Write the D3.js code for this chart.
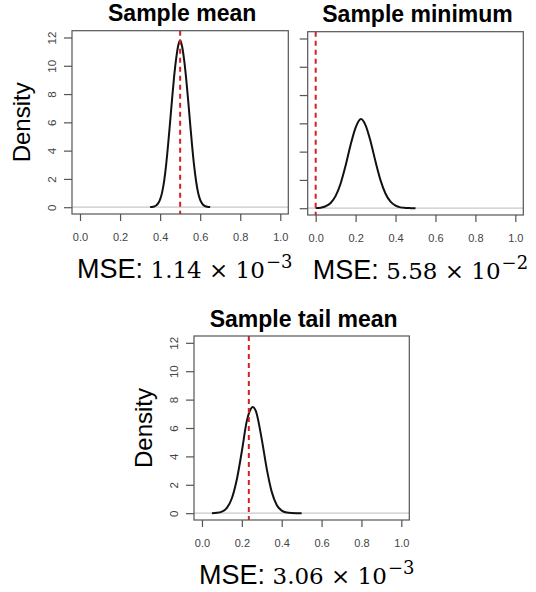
<!DOCTYPE html>
<html>
<head>
<meta charset="utf-8">
<script src="https://cdn.jsdelivr.net/npm/d3@7"></script>
<style>
  html, body { margin: 0; padding: 0; background: #fff; }
  svg { display: block; }
</style>
</head>
<body>
<svg id="chart" width="536" height="592"></svg>
<script>
// ---------------- data ----------------
const xTicks = [0.0, 0.2, 0.4, 0.6, 0.8, 1.0];
const yTicks = [0, 2, 4, 6, 8, 10, 12];
const titles = ["Sample mean", "Sample minimum", "Sample tail mean"];
const trueValues = [0.5, 0.0, 0.235];
const mseMantissa = ["1.14", "5.58", "3.06"];
const mseExponent = ["\u22123", "\u22122", "\u22123"];

// Sample mean density
const meanX = [0.35, 0.36, 0.37, 0.38, 0.39, 0.40, 0.41, 0.42, 0.43, 0.44, 0.45, 0.46, 0.47, 0.48, 0.49, 0.50,
               0.51, 0.52, 0.53, 0.54, 0.55, 0.56, 0.57, 0.58, 0.59, 0.60, 0.61, 0.62, 0.63, 0.64, 0.65];
const meanY = [0.01, 0.02, 0.05, 0.12, 0.27, 0.55, 1.05, 1.85, 3.0, 4.45, 6.05, 7.7, 9.25, 10.5, 11.4, 11.8,
               11.35, 10.4, 9.1, 7.55, 5.9, 4.3, 2.9, 1.8, 1.0, 0.52, 0.25, 0.11, 0.05, 0.02, 0.01];

// Sample minimum density
const minX = [0.0, 0.025, 0.05, 0.075, 0.1, 0.125, 0.15, 0.175, 0.2, 0.227, 0.25, 0.275, 0.3, 0.325,
              0.35, 0.375, 0.4, 0.425, 0.45, 0.475, 0.5];
const minY = [0.01, 0.04, 0.14, 0.37, 0.87, 1.75, 3.02, 4.48, 5.7, 6.3, 5.86, 4.72, 3.28, 1.97,
              1.02, 0.46, 0.18, 0.06, 0.02, 0.005, 0.0];

// Sample tail mean density
const tailX = [0.05, 0.075, 0.1, 0.125, 0.15, 0.175, 0.2, 0.225, 0.24, 0.255, 0.27, 0.3, 0.325,
               0.35, 0.375, 0.4, 0.425, 0.45, 0.475, 0.5];
const tailY = [0.004, 0.023, 0.105, 0.37, 1.05, 2.39, 4.36, 6.5, 7.2, 7.48, 7.2, 5.2, 3.12,
               1.5, 0.58, 0.18, 0.044, 0.009, 0.002, 0.0];

// ---------------- layout ----------------
const panels = [
  { left: 72,    right: 288.3, top: 30.7, bottom: 214, yLabels: true,  yTitle: true,  xs: meanX, ys: meanY },
  { left: 307.7, right: 523.3, top: 31.7, bottom: 215, yLabels: false, yTitle: false, xs: minX,  ys: minY },
  { left: 194,   right: 409.3, top: 336,  bottom: 520, yLabels: true,  yTitle: true,  xs: tailX, ys: tailY }
];

const svg = d3.select("#chart");
svg.append("rect").attr("width", 536).attr("height", 592).attr("fill", "#fff");

const SANS = "Liberation Sans, Arial, Helvetica, sans-serif";
const SERIF = "DejaVu Serif, serif";

panels.forEach((p, i) => {
  const x = d3.scaleLinear().domain([-0.04, 1.04]).range([p.left, p.right]);
  const y = d3.scaleLinear().domain([-0.48, 12.48]).range([p.bottom, p.top]);
  const g = svg.append("g");

  // zero line
  g.append("line")
    .attr("x1", p.left).attr("x2", p.right)
    .attr("y1", y(0)).attr("y2", y(0))
    .attr("stroke", "#c8c8c8").attr("stroke-width", 1.2);

  // density curve
  const pts = p.xs.map((v, k) => [v, p.ys[k]]);
  g.append("path")
    .datum(pts)
    .attr("fill", "none")
    .attr("stroke", "#111")
    .attr("stroke-width", 2)
    .attr("stroke-linejoin", "round")
    .attr("d", d3.line().x(d => x(d[0])).y(d => y(d[1])).curve(d3.curveMonotoneX));

  // true value line
  g.append("line")
    .attr("x1", x(trueValues[i])).attr("x2", x(trueValues[i]))
    .attr("y1", p.top).attr("y2", p.bottom)
    .attr("stroke", "#d42020").attr("stroke-width", 2)
    .attr("stroke-dasharray", "5,4");

  // box
  g.append("rect")
    .attr("x", p.left).attr("y", p.top)
    .attr("width", p.right - p.left).attr("height", p.bottom - p.top)
    .attr("fill", "none").attr("stroke", "#555").attr("stroke-width", 1.2);

  // x axis
  const xAxis = d3.axisBottom(x).tickValues(xTicks).tickSize(7).tickPadding(7)
    .tickFormat(d3.format(".1f"));
  const xa = g.append("g").attr("transform", `translate(0,${p.bottom})`).call(xAxis);
  xa.select(".domain").remove();
  xa.selectAll(".tick line").attr("stroke", "#555").attr("stroke-width", 1.2);
  xa.selectAll(".tick text")
    .attr("font-family", SANS).attr("font-size", 11).attr("fill", "#444")
    .attr("dy", null).attr("y", 26.7);

  // y axis
  const yAxis = d3.axisLeft(y).tickValues(yTicks).tickSize(8).tickFormat(p.yLabels ? d3.format("d") : "");
  const ya = g.append("g").attr("transform", `translate(${p.left},0)`).call(yAxis);
  ya.select(".domain").remove();
  ya.selectAll(".tick line").attr("stroke", "#555").attr("stroke-width", 1.2);
  ya.selectAll(".tick text")
    .attr("font-family", SANS).attr("font-size", 11.5).attr("fill", "#444")
    .attr("x", null).attr("dy", null)
    .attr("text-anchor", "middle")
    .attr("transform", "translate(-16.5,0) rotate(-90)");

  // y title
  if (p.yTitle) {
    g.append("text")
      .attr("transform", `translate(${p.left - 42},${(p.top + p.bottom) / 2}) rotate(-90)`)
      .attr("text-anchor", "middle")
      .attr("font-family", SANS).attr("font-size", 24).attr("fill", "#000")
      .text("Density");
  }

  // panel title
  g.append("text")
    .attr("x", (p.left + p.right) / 2 + 2).attr("y", p.top - 9.5)
    .attr("text-anchor", "middle")
    .attr("font-family", SANS).attr("font-weight", "bold").attr("font-size", 23).attr("fill", "#000")
    .text(titles[i]);

  // MSE annotation
  const t = g.append("text")
    .attr("x", p.left + 5).attr("y", p.bottom + 64)
    .attr("fill", "#000");
  t.append("tspan").attr("font-family", SANS).attr("font-size", 27).text("MSE: ");
  t.append("tspan").attr("font-family", SERIF).attr("font-size", 23)
    .text(mseMantissa[i] + " \u00d7 10");
  t.append("tspan").attr("font-family", SERIF).attr("font-size", 18)
    .attr("dx", 1).attr("dy", -10).text(mseExponent[i]);
});
</script>
</body>
</html>
